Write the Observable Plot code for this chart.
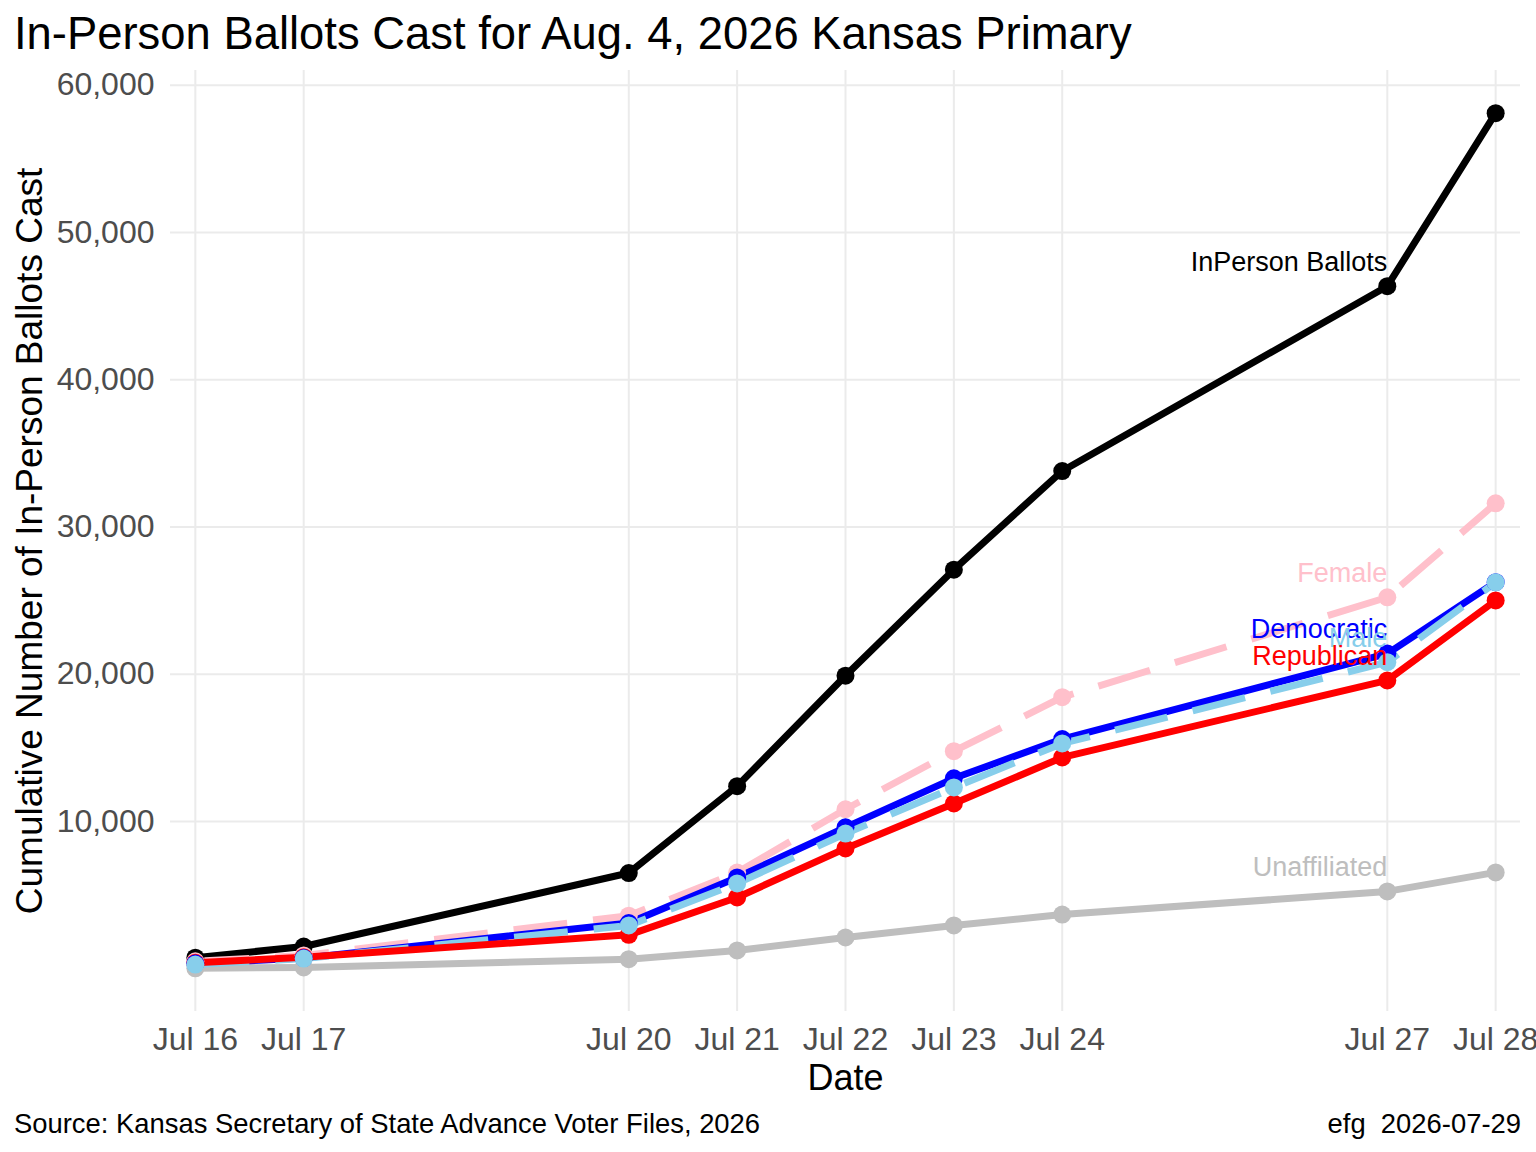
<!DOCTYPE html>
<html>
<head>
<meta charset="utf-8">
<script src="https://cdn.jsdelivr.net/npm/d3@7"></script>
<script src="https://cdn.jsdelivr.net/npm/@observablehq/plot@0.6"></script>
<style>
  html, body { margin: 0; padding: 0; background: #fff; }
  body { width: 1536px; height: 1152px; position: relative; overflow: hidden; font-family: "Liberation Sans", Arial, sans-serif; }
  #title { position: absolute; left: 14px; top: 11px; font-size: 45.4px; line-height: 45px; color: #000; white-space: nowrap; }
  #chart { position: absolute; left: 0; top: 62px; }
  #capL { position: absolute; left: 14px; top: 1110px; font-size: 27.4px; line-height: 27px; color: #000; white-space: nowrap; }
  #capR { position: absolute; right: 15px; top: 1110px; font-size: 27.4px; line-height: 27px; color: #000; white-space: pre; }
</style>
</head>
<body>
<div id="title">In-Person Ballots Cast for Aug. 4, 2026 Kansas Primary</div>
<div id="chart"></div>
<div id="capL">Source: Kansas Secretary of State Advance Voter Files, 2026</div>
<div id="capR">efg  2026-07-29</div>
<script>
// ---- data ----
const dateStrings = ["2026-07-16","2026-07-17","2026-07-20","2026-07-21","2026-07-22","2026-07-23","2026-07-24","2026-07-27","2026-07-28"];
const inPerson     = [750, 1510, 6500, 12400, 19900, 27100, 33800, 46350, 58100];
const democratic   = [350, 720, 3100, 6200, 9600, 12930, 15600, 21400, 26250];
const republican   = [400, 780, 2300, 4840, 8170, 11220, 14350, 19580, 25010];
const unaffiliated = [30, 90, 650, 1240, 2120, 2940, 3680, 5250, 6540];
const female       = [500, 900, 3600, 6530, 10830, 14770, 18440, 25220, 31610];
const male         = [280, 690, 2940, 5790, 9180, 12310, 15300, 20820, 26240];
const yTicks = [10000, 20000, 30000, 40000, 50000, 60000];
const seriesNames = ["InPerson Ballots", "Democratic", "Republican", "Unaffiliated", "Female", "Male"];

const parse = d3.utcParse("%Y-%m-%d");
const dates = dateStrings.map(parse);

function rows(name, vals) { return vals.map((v, i) => ({series: name, date: dates[i], value: v})); }
const S = {
  "InPerson Ballots": {vals: inPerson, color: "#000000", dash: null},
  "Democratic": {vals: democratic, color: "#0000FF", dash: null},
  "Republican": {vals: republican, color: "#FF0000", dash: null},
  "Unaffiliated": {vals: unaffiliated, color: "#BEBEBE", dash: null},
  "Female": {vals: female, color: "#FFC0CB", dash: "54,26"},
  "Male": {vals: male, color: "#87CEEB", dash: "54,26"}
};
const data = {};
for (const n of seriesNames) data[n] = rows(n, S[n].vals);

const lineOrder = ["Unaffiliated", "InPerson Ballots", "Female", "Democratic", "Male", "Republican"];
const dotOrder = ["Unaffiliated", "InPerson Ballots", "Female", "Republican", "Democratic", "Male"];
const labelOrder = ["InPerson Ballots", "Female", "Democratic", "Male", "Republican", "Unaffiliated"];

const lineMarks = lineOrder.map(n => Plot.line(data[n], {
  x: "date", y: "value", stroke: S[n].color, strokeWidth: 7,
  strokeDasharray: S[n].dash || undefined, strokeLinecap: "butt", strokeLinejoin: "round"
}));
const dotMarks = dotOrder.map(n => Plot.dot(data[n], {x: "date", y: "value", r: 9, fill: S[n].color, stroke: "none"}));
const labelMarks = labelOrder.map(n => Plot.text([data[n][7]], {
  x: "date", y: "value", text: d => d.series, fill: S[n].color,
  textAnchor: "end", dy: -24, fontSize: 27
}));

const xDomain = [d3.utcMinute.offset(dates[0], -330), d3.utcMinute.offset(dates[dates.length - 1], 330)];

const chart = Plot.plot({
  width: 1536,
  height: 1040,
  marginTop: 8,
  marginBottom: 91,
  marginLeft: 170,
  marginRight: 16,
  style: {fontFamily: "'Liberation Sans', Arial, sans-serif", background: "#fff", color: "#000"},
  x: {type: "utc", domain: xDomain},
  y: {domain: [-2905, 61000]},
  marks: [
    Plot.gridX(dates, {stroke: "#EBEBEB", strokeOpacity: 1, strokeWidth: 2}),
    Plot.gridY(yTicks, {stroke: "#EBEBEB", strokeOpacity: 1, strokeWidth: 2}),
    Plot.axisX(dates, {tickSize: 0, tickPadding: 16, tickFormat: d3.utcFormat("%b %-d"), fontSize: 32, fill: "#4D4D4D", label: null}),
    Plot.axisY(yTicks, {tickSize: 0, tickPadding: 16, tickFormat: d3.format(","), fontSize: 32, fill: "#4D4D4D", label: null}),
    Plot.text(["Date"], {frameAnchor: "bottom", dy: 67, fontSize: 36, fill: "#000", lineAnchor: "middle"}),
    Plot.text(["Cumulative Number of In-Person Ballots Cast"], {frameAnchor: "left", dx: -140, rotate: -90, fontSize: 37, fill: "#000", lineAnchor: "middle", textAnchor: "middle"}),
    ...lineMarks,
    ...dotMarks,
    ...labelMarks
  ]
});
document.getElementById("chart").appendChild(chart);
</script>
</body>
</html>
